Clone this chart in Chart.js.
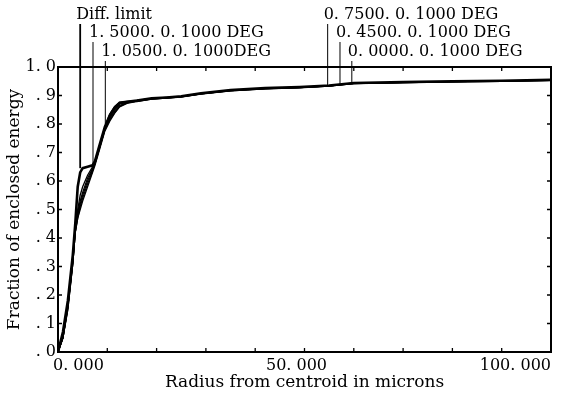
<!DOCTYPE html>
<html>
<head>
<meta charset="utf-8">
<script src="https://cdn.jsdelivr.net/npm/chart.js@4"></script>
<style>
  html, body { margin: 0; padding: 0; background: #fff; }
  #wrap { width: 568px; height: 396px; }
</style>
</head>
<body>
<div id="wrap"><canvas id="myChart"></canvas></div>
<script>
// radius from centroid (microns)
const radius = [0, 1, 2, 3, 3.5, 4, 4.5, 5, 6, 7, 7.5, 8.5, 9.5, 10.5, 11.5, 12.5, 14, 16, 19, 22, 25, 29, 35, 42, 49, 55, 60, 70, 80, 90, 100];

// fraction of enclosed energy, one array per curve
const diffLimit = [0, 0.07, 0.18, 0.34, 0.45, 0.58, 0.63, 0.645, 0.65, 0.655, 0.67, 0.73, 0.79, 0.83, 0.858, 0.875, 0.878, 0.882, 0.89, 0.893, 0.897, 0.908, 0.919, 0.926, 0.93, 0.935, 0.944, 0.947, 0.95, 0.952, 0.955];
const field150 = [0, 0.05, 0.16, 0.32, 0.43, 0.5, 0.55, 0.58, 0.62, 0.65, 0.67, 0.73, 0.79, 0.835, 0.862, 0.876, 0.879, 0.883, 0.89, 0.893, 0.897, 0.907, 0.918, 0.925, 0.929, 0.934, 0.943, 0.946, 0.949, 0.951, 0.954];
const field105 = [0, 0.05, 0.16, 0.32, 0.43, 0.49, 0.53, 0.56, 0.61, 0.645, 0.665, 0.725, 0.785, 0.825, 0.85, 0.87, 0.876, 0.882, 0.889, 0.892, 0.896, 0.907, 0.918, 0.925, 0.929, 0.934, 0.943, 0.946, 0.949, 0.951, 0.954];
const field075 = [0, 0.05, 0.16, 0.31, 0.42, 0.48, 0.52, 0.55, 0.6, 0.64, 0.66, 0.72, 0.78, 0.82, 0.845, 0.865, 0.875, 0.881, 0.888, 0.892, 0.896, 0.906, 0.917, 0.924, 0.928, 0.934, 0.942, 0.946, 0.949, 0.951, 0.953];
const field045 = [0, 0.05, 0.15, 0.31, 0.42, 0.47, 0.51, 0.54, 0.59, 0.635, 0.66, 0.72, 0.78, 0.815, 0.84, 0.862, 0.874, 0.88, 0.888, 0.891, 0.895, 0.906, 0.917, 0.924, 0.928, 0.933, 0.942, 0.945, 0.948, 0.95, 0.953];
const field000 = [0, 0.05, 0.15, 0.31, 0.42, 0.47, 0.5, 0.53, 0.58, 0.63, 0.655, 0.715, 0.775, 0.81, 0.838, 0.86, 0.872, 0.879, 0.887, 0.891, 0.895, 0.905, 0.916, 0.923, 0.927, 0.933, 0.944, 0.945, 0.948, 0.95, 0.953];

// curve labels and where their leader lines touch the curves
const labelNames = ['Diff. limit', '1. 5000. 0. 1000 DEG', '1. 0500. 0. 1000DEG', '0. 7500. 0. 1000 DEG', '0. 4500. 0. 1000 DEG', '0. 0000. 0. 1000 DEG'];
const labelRadius = [4.5, 7.1, 9.6, 54.7, 57.2, 59.6];
const labelFraction = [0.645, 0.655, 0.8, 0.935, 0.936, 0.944];

// labelled radius ticks
const xTickValues = [0, 50, 100];
const xTickLabels = ['0. 000', '50. 000', '100. 000'];

const series = [diffLimit, field150, field105, field075, field045, field000];

Chart.defaults.font.family = 'DejaVu Serif';
Chart.defaults.color = '#000';

// frame with inward ticks, x labels, curve labels and leader lines
const framePlugin = {
  id: 'frame',
  afterDraw(chart) {
    const ctx = chart.ctx;
    const a = chart.chartArea;
    const xs = chart.scales.x, ys = chart.scales.y;
    ctx.save();
    ctx.strokeStyle = '#000';
    ctx.lineWidth = 2;
    ctx.strokeRect(a.left, a.top, a.right - a.left, a.bottom - a.top);
    ctx.lineWidth = 1.3;
    ctx.beginPath();
    xs.ticks.forEach(t => {
      const px = xs.getPixelForValue(t.value);
      ctx.moveTo(px, a.bottom); ctx.lineTo(px, a.bottom - 4);
      ctx.moveTo(px, a.top); ctx.lineTo(px, a.top + 4);
    });
    ys.ticks.forEach(t => {
      const py = ys.getPixelForValue(t.value);
      ctx.moveTo(a.left, py); ctx.lineTo(a.left + 4, py);
      ctx.moveTo(a.right, py); ctx.lineTo(a.right - 4, py);
    });
    ctx.stroke();

    ctx.fillStyle = '#000';
    ctx.font = '16px "DejaVu Serif"';
    ctx.textBaseline = 'middle';
    const aligns = ['left', 'center', 'right'];
    const shifts = [-5, -8, 0];
    xTickValues.forEach((v, i) => {
      ctx.textAlign = aligns[i];
      ctx.fillText(xTickLabels[i], xs.getPixelForValue(v) + shifts[i], a.bottom + 14);
    });

    ctx.textAlign = 'left';
    const rows = [15, 33, 52];
    labelNames.forEach((name, i) => {
      const px = xs.getPixelForValue(labelRadius[i]);
      const py = ys.getPixelForValue(labelFraction[i]);
      const ry = rows[i % 3];
      ctx.fillText(name, px - 4, ry);
      ctx.lineWidth = i === 0 ? 1.8 : 1;
      ctx.beginPath();
      ctx.moveTo(px, ry + 9);
      ctx.lineTo(px, py);
      ctx.stroke();
    });
    ctx.restore();
  }
};

new Chart(document.getElementById('myChart'), {
  type: 'scatter',
  data: {
    datasets: series.map((vals, i) => ({
      label: labelNames[i],
      data: radius.map((r, j) => ({ x: r, y: vals[j] })),
      showLine: true,
      borderColor: '#000',
      borderWidth: i === 0 ? 2.6 : 1.3,
      pointRadius: 0,
      tension: 0
    }))
  },
  options: {
    responsive: true,
    maintainAspectRatio: false,
    animation: false,
    layout: { padding: { top: 67, right: 17, left: 0, bottom: 0 } },
    plugins: {
      legend: { display: false },
      tooltip: { enabled: false }
    },
    scales: {
      x: {
        type: 'linear',
        min: 0,
        max: 100,
        grid: { display: false, drawTicks: false },
        border: { display: false },
        ticks: { stepSize: 10, autoSkip: false, display: false },
        title: {
          display: true,
          text: 'Radius from centroid in microns',
          font: { size: 17 },
          padding: { top: 0, bottom: 3 }
        },
        afterFit: s => { s.height = 44; }
      },
      y: {
        min: 0,
        max: 1,
        grid: { display: false, drawTicks: false },
        border: { display: false },
        ticks: {
          stepSize: 0.1,
          padding: 2,
          font: { size: 16 },
          callback: v => (Math.round(v * 10) === 10 ? '1. 0' : '. ' + Math.round(v * 10))
        },
        title: {
          display: true,
          text: 'Fraction of enclosed energy',
          font: { size: 17 },
          padding: { top: 4, bottom: 0 }
        },
        afterFit: s => { s.width = 58; }
      }
    }
  },
  plugins: [framePlugin]
});
</script>
</body>
</html>
